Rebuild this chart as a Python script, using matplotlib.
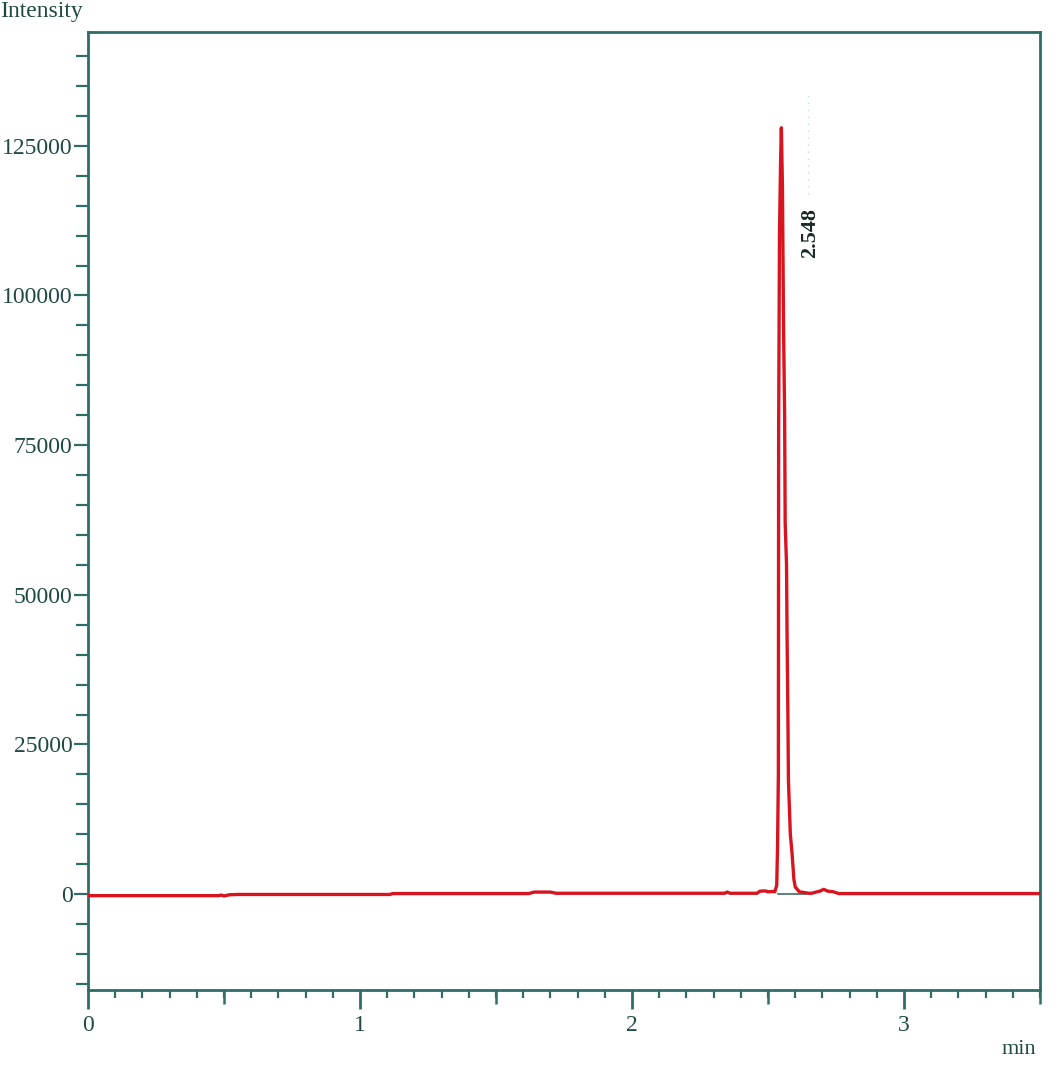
import matplotlib
matplotlib.use("Agg")
import matplotlib.pyplot as plt
from matplotlib.ticker import MultipleLocator

# chromatogram trace (min, intensity)
time_min = [
    0.0, 0.48, 0.49, 0.50, 0.52, 0.55, 1.11, 1.12, 1.62, 1.64, 1.70, 1.72,
    2.34, 2.35, 2.36, 2.46, 2.47, 2.49, 2.50, 2.52, 2.525,
    2.532, 2.535, 2.538, 2.539, 2.542, 2.546, 2.549, 2.553, 2.557, 2.561,
    2.563, 2.568, 2.570, 2.573, 2.575, 2.582, 2.588, 2.595, 2.600, 2.615,
    2.650, 2.660, 2.690, 2.705, 2.720, 2.740, 2.760, 3.5,
]
intensity = [
    -250, -250, -150, -300, -100, -50, -50, 100, 100, 350, 350, 150,
    150, 350, 150, 150, 500, 550, 400, 450, 400,
    1500, 8000, 20000, 77000, 110000, 122000, 128000, 118000, 95000, 80000,
    62000, 55000, 43000, 30000, 19000, 10000, 7000, 2500, 1200, 400,
    150, 150, 500, 800, 500, 400, 100, 100,
]
peak_rt = 2.548
peak_label = "2.548"
base_start, base_end = 2.535, 2.64

y_ticks = [0, 25000, 50000, 75000, 100000, 125000]
x_ticks = [0, 1, 2, 3]
x_half_ticks = [0.5, 1.5, 2.5, 3.5]

axis_col = "#2f6e66"
text_col = "#1f4a44"
plt.rcParams["font.family"] = ["Liberation Serif", "DejaVu Serif"]

fig = plt.figure(figsize=(10.63, 10.67), dpi=100)
ax = fig.add_axes([0.0828, 0.0722, 0.8956, 0.8978])

ax.plot(time_min, intensity, color="#d7141f", lw=2.4, solid_joinstyle="round", zorder=3)
ax.plot([base_start, base_end], [0, 0], color="#3f6f66", lw=1.2, zorder=2)

ax.text(peak_rt + 0.107, 110500, peak_label, rotation=90, ha="center", va="center",
        fontsize=16, fontweight="bold", color="#1a2a28")
ax.plot([peak_rt + 0.1, peak_rt + 0.1], [117000, 134000], color="#bfe0da",
        lw=1.0, ls=(0, (1, 4)))

ax.set_xlim(0, 3.5)
ax.set_ylim(-16000, 144000)

ax.set_xticks(x_ticks)
ax.set_xticklabels([str(t) for t in x_ticks])
ax.xaxis.set_minor_locator(MultipleLocator(0.1))
ax.set_yticks(y_ticks)
ax.set_yticklabels([str(v) for v in y_ticks])
ax.yaxis.set_minor_locator(MultipleLocator(5000))

ax.tick_params(axis="x", which="major", length=14, width=2, color=axis_col,
               labelsize=17, labelcolor=text_col, pad=4)
ax.tick_params(axis="x", which="minor", length=6, width=1.6, color=axis_col)
ax.tick_params(axis="y", which="major", length=10, width=1.6, color=axis_col,
               labelsize=17, labelcolor=text_col, pad=1)
ax.tick_params(axis="y", which="minor", length=9, width=1.6, color=axis_col)

# half-minute ticks are a bit longer
half = ax.secondary_xaxis("bottom")
half.set_xticks(x_half_ticks)
half.set_xticklabels([])
half.tick_params(length=10, width=1.8, color=axis_col)
half.spines["bottom"].set_visible(False)

for s in ax.spines.values():
    s.set_color(axis_col)
    s.set_linewidth(2)

fig.text(0.0, 0.989, "Intensity", fontsize=17, color=text_col, ha="left", va="center")
fig.text(0.975, 0.016, "min", fontsize=16, color=text_col, ha="right", va="center")

fig.savefig("out.png", dpi=100, facecolor="white")
